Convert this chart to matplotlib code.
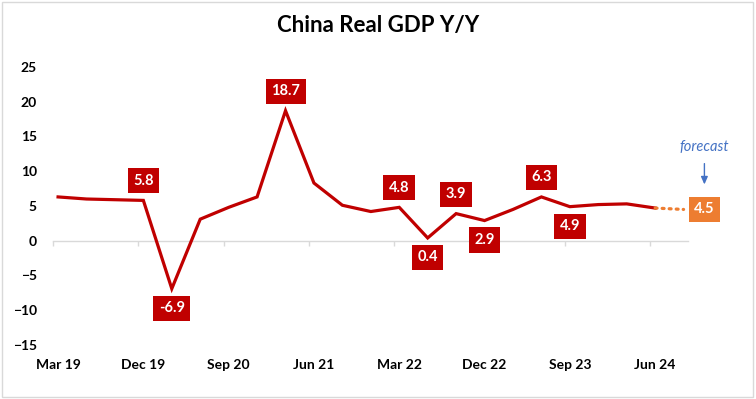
# %% IMPORT STATEMENTS
import matplotlib.pyplot as plt
from matplotlib.patches import Rectangle
from matplotlib.transforms import offset_copy

# %% DATA
quarters = ['Mar 19', 'Jun 19', 'Sep 19', 'Dec 19',
            'Mar 20', 'Jun 20', 'Sep 20', 'Dec 20',
            'Mar 21', 'Jun 21', 'Sep 21', 'Dec 21',
            'Mar 22', 'Jun 22', 'Sep 22', 'Dec 22',
            'Mar 23', 'Jun 23', 'Sep 23', 'Dec 23',
            'Mar 24', 'Jun 24']
gdp_yoy = [6.3, 6.0, 5.9, 5.8,
           -6.9, 3.1, 4.8, 6.3,
           18.7, 8.3, 5.1, 4.2,
           4.8, 0.4, 3.9, 2.9,
           4.5, 6.3, 4.9, 5.2,
           5.3, 4.7]
forecast_quarter = 'Sep 24'
forecast_value = 4.5

labels_above = ['Dec 19', 'Mar 21', 'Mar 22', 'Sep 22', 'Jun 23']
labels_below = ['Mar 20', 'Jun 22', 'Dec 22', 'Sep 23']
shown_ticks = ['Mar 19', 'Dec 19', 'Sep 20', 'Jun 21', 'Mar 22', 'Dec 22', 'Sep 23', 'Jun 24']
y_ticks = [-15, -10, -5, 0, 5, 10, 15, 20, 25]

# %% STYLE
RED = '#C00000'
ORANGE = '#ED7D31'
BLUE = '#4472C4'
plt.rcParams['font.family'] = ['Lato', 'DejaVu Sans']


def main():
    fig = plt.figure(figsize=(7.56, 3.99), dpi=100)
    ax = fig.add_axes([0.058, 0.1353, 0.865, 0.697])

    x = list(range(len(quarters)))
    fx = len(quarters)

    # zero line and small category ticks
    ax.axhline(0, xmin=0.0143, xmax=0.985, color='#d9d9d9', lw=1, zorder=1)
    tick_idx = [quarters.index(q) for q in shown_ticks]
    ax.vlines([i - 0.18 for i in tick_idx], -0.75, 0, color='#d9d9d9', lw=1, zorder=1)

    # main series and forecast link
    ax.plot(x, gdp_yoy, color=RED, lw=2.3, solid_joinstyle='miter', zorder=3)
    ax.plot([x[-1], fx], [gdp_yoy[-1], forecast_value], color=ORANGE, lw=2.3,
            linestyle=(0, (0.6, 1.6)), dash_capstyle='round', zorder=3)

    # data labels
    box = dict(boxstyle='square,pad=0.38', fc=RED, ec='none')
    for q in labels_above + labels_below:
        i = quarters.index(q)
        dy = 14 if q in labels_above else -14
        ax.annotate(f'{gdp_yoy[i]:.1f}', (i, gdp_yoy[i]), xytext=(0, dy),
                    textcoords='offset points', ha='center', va='center',
                    color='white', fontsize=10.5, fontweight='bold', bbox=box, zorder=4)
    ax.annotate(f'{forecast_value:.1f}', (fx, forecast_value), xytext=(15, 0),
                textcoords='offset points', ha='center', va='center',
                color='white', fontsize=10.5, fontweight='bold',
                bbox=dict(boxstyle='square,pad=0.38', fc=ORANGE, ec='none'), zorder=4)

    # forecast note with arrow
    ax.annotate('', xy=(fx, forecast_value), xycoords=offset_copy(ax.transData, fig, x=15, y=16, units='points'),
                xytext=(fx, forecast_value), textcoords=offset_copy(ax.transData, fig, x=15, y=35, units='points'),
                arrowprops=dict(arrowstyle='-|>,head_width=0.2,head_length=0.45', color=BLUE, lw=1))
    ax.annotate('forecast', (fx, forecast_value), xytext=(15, 45), textcoords='offset points',
                ha='center', va='center', color=BLUE, fontsize=10.5, fontstyle='italic')

    # axes
    ax.set_xlim(-0.5, len(quarters) + 0.5)
    ax.set_ylim(-15, 25)
    ax.set_yticks(y_ticks)
    ax.set_xticks(tick_idx)
    ax.set_xticklabels(shown_ticks)
    ax.tick_params(axis='both', length=0, labelsize=10)
    ax.tick_params(axis='y', pad=5)
    ax.tick_params(axis='x', pad=10)
    for lab in ax.get_xticklabels() + ax.get_yticklabels():
        lab.set_fontweight('bold')
    for s in ax.spines.values():
        s.set_visible(False)

    fig.text(0.5, 0.935, 'China Real GDP Y/Y', ha='center', va='center',
             fontsize=16, fontweight='bold')
    fig.patches.append(Rectangle((0.002, 0.004), 0.994, 0.992, transform=fig.transFigure,
                                 fill=False, ec='#d9d9d9', lw=1))

    fig.savefig('out.png', dpi=100)
    return 0


# %% MAIN EXECUTION
if __name__ == "__main__":
    main()
